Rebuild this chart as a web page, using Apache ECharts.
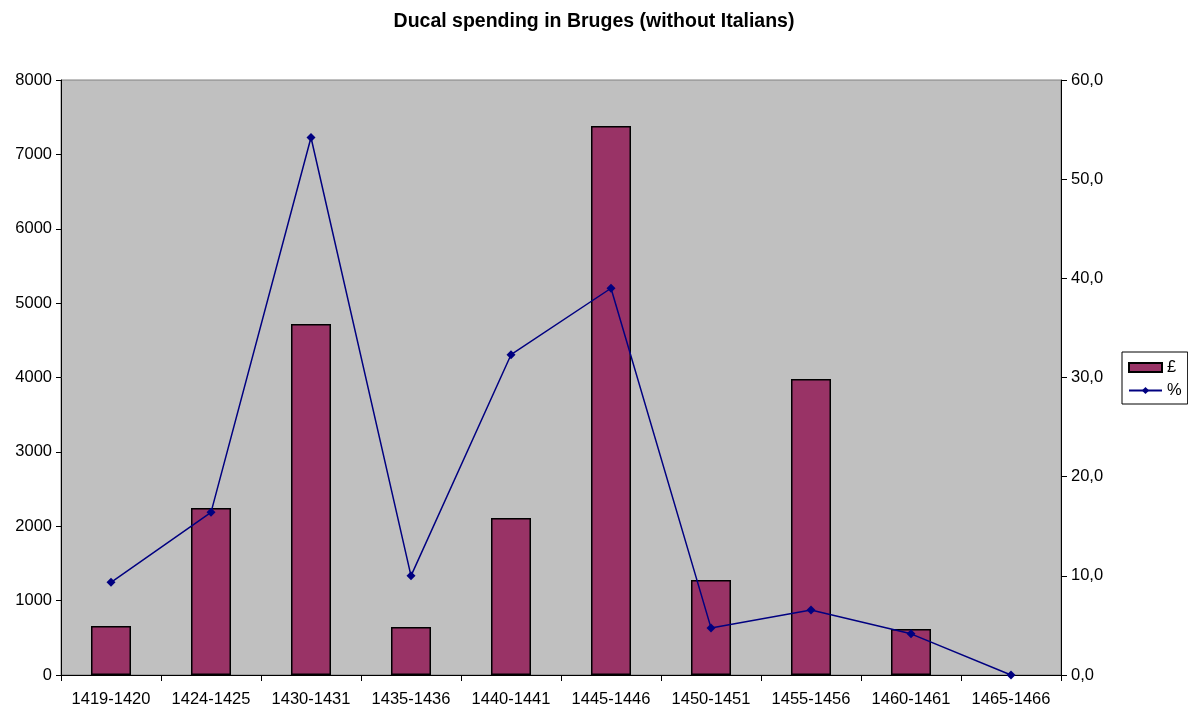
<!DOCTYPE html>
<html>
<head>
<meta charset="utf-8">
<script src="https://cdn.jsdelivr.net/npm/echarts@6/dist/echarts.min.js"></script>
<style>
  html, body { margin: 0; padding: 0; background: #fff; }
  #chart { width: 1188px; height: 709px; }
</style>
</head>
<body>
<div id="chart"></div>
<script>
// Periods (fiscal years) on the category axis
const periods = ['1419-1420', '1424-1425', '1430-1431', '1435-1436', '1440-1441',
                 '1445-1446', '1450-1451', '1455-1456', '1460-1461', '1465-1466'];
// Ducal spending in pounds (left axis); nothing recorded for the last period
const pounds = [660, 2245, 4720, 645, 2110, 7380, 1277, 3980, 618, null];
// Share in percent (right axis)
const percent = [9.35, 16.4, 54.2, 10.0, 32.3, 39.0, 4.75, 6.55, 4.15, 0.0];

const font = 'Arial, "Liberation Sans", Helvetica, sans-serif';

const chart = echarts.init(document.getElementById('chart'), null, { renderer: 'canvas' });

chart.setOption({
  backgroundColor: '#ffffff',
  animation: false,
  title: {
    text: 'Ducal spending in Bruges (without Italians)',
    left: 'center',
    top: 7,
    textStyle: { fontFamily: font, fontSize: 19.5, fontWeight: 'bold', color: '#000' }
  },
  legend: {
    orient: 'vertical',
    left: 1122,
    top: 352,
    padding: [7, 6, 5, 6],
    itemGap: 6,
    itemWidth: 33,
    itemHeight: 9,
    borderColor: '#000',
    borderWidth: 1,
    borderRadius: 0,
    backgroundColor: '#fff',
    textStyle: { fontFamily: font, fontSize: 16.5, lineHeight: 15, color: '#000' },
    data: [
      { name: '£', icon: 'rect' },
      { name: '%' }
    ]
  },
  grid: {
    left: 61, right: 127, top: 80, bottom: 34,
    show: true,
    backgroundColor: '#c0c0c0',
    borderColor: '#808080',
    borderWidth: 1
  },
  xAxis: {
    type: 'category',
    data: periods,
    boundaryGap: true,
    axisLine: { lineStyle: { color: '#000', width: 1 } },
    axisTick: { show: true, length: 6, interval: 0, lineStyle: { color: '#000' } },
    axisLabel: { fontFamily: font, fontSize: 16.5, color: '#000', margin: 16, interval: 0, hideOverlap: false }
  },
  yAxis: [
    {
      type: 'value',
      min: 0, max: 8000, interval: 1000,
      position: 'left',
      axisLine: { show: true, lineStyle: { color: '#000' } },
      axisTick: { show: true, length: 5, lineStyle: { color: '#000' } },
      splitLine: { show: false },
      axisLabel: {
        fontFamily: font, fontSize: 16.5, color: '#000', margin: 9,
        formatter: v => String(v)
      }
    },
    {
      type: 'value',
      min: 0, max: 60, interval: 10,
      position: 'right',
      axisLine: { show: true, lineStyle: { color: '#000' } },
      axisTick: { show: true, length: 6, lineStyle: { color: '#000' } },
      splitLine: { show: false },
      axisLabel: {
        fontFamily: font, fontSize: 16.5, color: '#000', margin: 10,
        formatter: v => v.toFixed(1).replace('.', ',')
      }
    }
  ],
  series: [
    {
      name: '£',
      type: 'bar',
      yAxisIndex: 0,
      data: pounds,
      barWidth: '40%',
      itemStyle: { color: '#993366', borderColor: '#000', borderWidth: 1.5 }
    },
    {
      name: '%',
      type: 'line',
      yAxisIndex: 1,
      data: percent,
      symbol: 'diamond',
      symbolSize: 9,
      showAllSymbol: true,
      lineStyle: { color: '#000080', width: 1.5 },
      itemStyle: { color: '#000080' }
    }
  ]
});
</script>
</body>
</html>
